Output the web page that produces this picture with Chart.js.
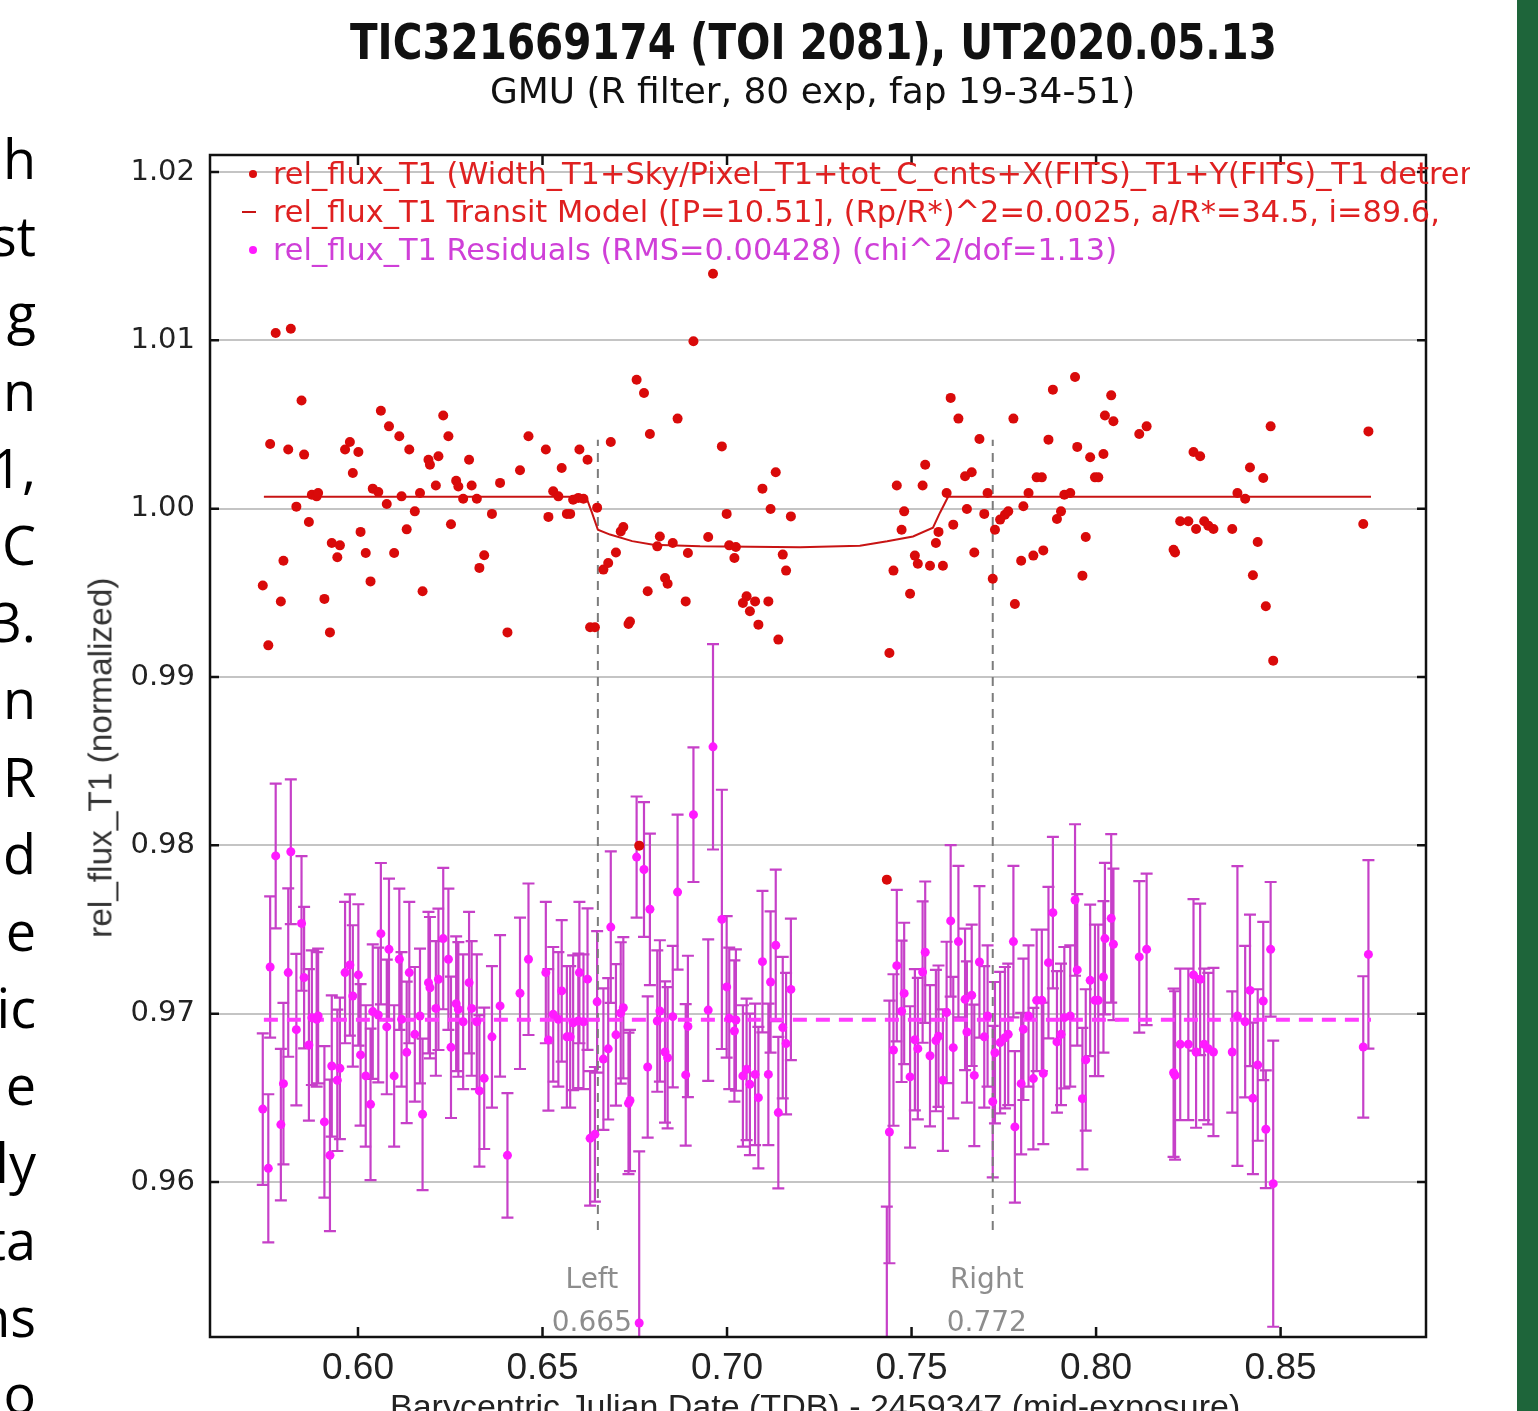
<!DOCTYPE html>
<html>
<head>
<meta charset="utf-8">
<title>TIC321669174 (TOI 2081) light curve</title>
<script src="https://cdn.jsdelivr.net/npm/chart.js"></script>
<style>
    body {
        margin: 0;
        width: 1538px;
        height: 1411px;
        overflow: hidden;
        position: relative;
        background: #fff;
        font-family: "DejaVu Sans", sans-serif;
    }

    #plot {
        position: absolute;
        left: 0;
        top: 0;
    }

    .lbl {
        position: absolute;
        white-space: nowrap;
        line-height: 1;
        color: #111;
        transform-origin: 0 0;
    }

    #title { font-weight: bold; font-size: 49px; }
    #subtitle { font-size: 36px; }
    #ytitle { font-family: "Liberation Sans", sans-serif; font-size: 30px; color: #333; transform-origin: 50% 50%; }
    #xtitle { font-family: "Liberation Sans", sans-serif; font-size: 30px; color: #222; }

    /* legend sits inside the plot and is cut at the right */
    #legend {
        position: absolute;
        left: 238px;
        top: 155px;
        width: 1232px;
        height: 120px;
        overflow: hidden;
    }

    #legend .row {
        position: relative;
        height: 38px;
        line-height: 38px;
        white-space: nowrap;
        font-size: 26px;
    }

    #legend .txt {
        position: absolute;
        left: 35px;
        top: 0;
    }

    #legend .dot {
        position: absolute;
        left: 11px;
        top: 15px;
        width: 8px;
        height: 8px;
        border-radius: 50%;
    }

    #legend .dash {
        position: absolute;
        left: 4px;
        top: 18px;
        width: 14px;
        height: 2px;
    }

    /* slide text cut off on the left */
    #side {
        position: absolute;
        left: -264px;
        top: 120px;
        width: 300px;
        text-align: right;
        font-family: "Open Sans", sans-serif;
        font-size: 54px;
        line-height: 77.2px;
        color: #000;
        white-space: nowrap;
    }

    #greenbar {
        position: absolute;
        left: 1517px;
        top: 0;
        width: 21px;
        height: 1411px;
        background: #1e653a;
    }
</style>
</head>

<body>
    <canvas id="plot" width="1538" height="1411" style="width:1538px;height:1411px"></canvas>

    <div id="side">
        <div>h</div><div>st</div><div>g</div><div>n</div><div>1,</div><div>C</div><div>3.</div><div>n</div><div>R</div>
        <div>d</div><div>e</div><div>ic</div><div>e</div><div>ly</div><div>ta</div><div>ns</div><div>o</div>
    </div>
    <div id="greenbar"></div>

    <div id="title" class="lbl">TIC321669174 (TOI 2081), UT2020.05.13</div>
    <div id="subtitle" class="lbl">GMU (R filter, 80 exp, fap 19-34-51)</div>
    <div id="ytitle" class="lbl">rel_flux_T1 (normalized)</div>
    <div id="xtitle" class="lbl">Barycentric Julian Date (TDB) - 2459347 (mid-exposure)</div>

    <div id="legend">
        <div class="row" style="color:#df2020"><span class="dot" style="background:#dc0d0d"></span><span class="txt">rel_flux_T1 (Width_T1+Sky/Pixel_T1+tot_C_cnts+X(FITS)_T1+Y(FITS)_T1 detrend</span></div>
        <div class="row" style="color:#df2020"><span class="dash" style="background:#c81414"></span><span class="txt">rel_flux_T1 Transit Model ([P=10.51], (Rp/R*)^2=0.0025, a/R*=34.5, i=89.6,</span></div>
        <div class="row" style="color:#cf3fd8"><span class="dot" style="background:#ff1aff"></span><span class="txt" id="lg3">rel_flux_T1 Residuals (RMS=0.00428) (chi^2/dof=1.13)</span></div>
    </div>

    <script>
        // mid-exposure times (BJD_TDB - 2459347)
        const bjdTimes = [
            0.5742, 0.5757, 0.5762, 0.5777, 0.5791, 0.5798, 0.5811, 0.5818, 0.5833, 0.5847,
            0.5854, 0.5867, 0.5875, 0.5888, 0.5892, 0.5909, 0.5924, 0.5929, 0.5944, 0.5951,
            0.5965, 0.5978, 0.5986, 0.6001, 0.6007, 0.6021, 0.6034, 0.6040, 0.6055, 0.6062,
            0.6078, 0.6084, 0.6098, 0.6112, 0.6118, 0.6132, 0.6139, 0.6154, 0.6168, 0.6175,
            0.6191, 0.6195, 0.6211, 0.6218, 0.6231, 0.6245, 0.6252, 0.6266, 0.6272, 0.6285,
            0.6301, 0.6308, 0.6322, 0.6329, 0.6342, 0.6363, 0.6385, 0.6405, 0.6439, 0.6462,
            0.6509, 0.6516, 0.6529, 0.6543, 0.6552, 0.6566, 0.6575, 0.6583, 0.6597, 0.6600,
            0.6611, 0.6622, 0.6629, 0.6642, 0.6648, 0.6665, 0.6678, 0.6685, 0.6699, 0.6712,
            0.6719, 0.6733, 0.6737, 0.6755, 0.6762, 0.6775, 0.6785, 0.6791, 0.6811, 0.6818,
            0.6832, 0.6839, 0.6853, 0.6866, 0.6888, 0.6894, 0.6909, 0.6949, 0.6962, 0.6986,
            0.6999, 0.7006, 0.7020, 0.7024, 0.7043, 0.7053, 0.7062, 0.7076, 0.7085, 0.7096,
            0.7112, 0.7118, 0.7132, 0.7139, 0.7151, 0.7160, 0.7173,
            0.7433, 0.7440, 0.7451, 0.7460, 0.7473, 0.7480, 0.7496, 0.7509, 0.7517, 0.7530,
            0.7537, 0.7550, 0.7566, 0.7573, 0.7585, 0.7595, 0.7606, 0.7613, 0.7627, 0.7645,
            0.7650, 0.7663, 0.7670, 0.7684, 0.7697, 0.7706, 0.7720, 0.7726, 0.7740, 0.7753,
            0.7762, 0.7776, 0.7780, 0.7797, 0.7803, 0.7817, 0.7830, 0.7839, 0.7853, 0.7857,
            0.7871, 0.7883, 0.7894, 0.7905, 0.7914, 0.7930, 0.7943, 0.7949, 0.7963, 0.7972,
            0.7984, 0.7997, 0.8006, 0.8020, 0.8024, 0.8041, 0.8047, 0.8117, 0.8137, 0.8210,
            0.8214, 0.8228, 0.8250, 0.8264, 0.8271, 0.8282, 0.8293, 0.8304, 0.8318, 0.8369,
            0.8383, 0.8404, 0.8417, 0.8425, 0.8438, 0.8453, 0.8460, 0.8473, 0.8480, 0.8724,
            0.8738
        ];

        // detrended relative flux (red dots)
        const relFlux = [
            0.99543, 0.99188, 1.00384, 1.01044, 0.99448, 0.99691, 1.00351, 1.01069, 1.00012, 1.00643,
            1.00321, 0.99921, 1.00083, 1.00073, 1.00093, 0.99464, 0.99265, 0.99796, 0.99711, 0.99782,
            1.00351, 1.00396, 1.00212, 1.00337, 0.99862, 0.99737, 0.99568, 1.00119, 1.00099, 1.00582,
            1.00028, 1.00489, 0.99737, 1.00430, 1.00073, 0.99877, 1.00351, 0.99984, 1.00093, 0.99509,
            1.00291, 1.00261, 1.00138, 1.00311, 1.00553, 1.00430, 0.99907, 1.00166, 1.00132, 1.00059,
            1.00291, 1.00138, 1.00059, 0.99648, 0.99723, 0.99969, 1.00153, 0.99265, 1.00228, 1.00430,
            1.00351, 0.99951, 1.00103, 1.00073, 1.00242, 0.99969, 0.99969, 1.00053, 1.00064, 1.00351,
            1.00059, 1.00291, 0.99295, 0.99295, 1.00006, 0.99638, 0.99677, 1.00396, 0.99740, 0.99865,
            0.99891, 0.99315, 0.99330, 1.00766, 0.97998, 1.00687, 0.99509, 1.00444, 0.99776, 0.99835,
            0.99588, 0.99554, 0.99796, 1.00535, 0.99449, 0.99737, 1.00994, 0.99832, 1.01396, 1.00370,
            0.99969, 0.99782, 0.99707, 0.99772, 0.99440, 0.99479, 0.99390, 0.99449, 0.99311, 1.00119,
            0.99449, 0.99998, 1.00216, 0.99222, 0.99727, 0.99632, 0.99954,
            0.97796, 0.99143, 0.99632, 1.00138, 0.99875, 0.99984, 0.99495, 0.99721, 0.99673, 1.00138,
            1.00261, 0.99661, 0.99796, 0.99862, 0.99661, 1.00093, 1.00658, 0.99905, 1.00535, 1.00192,
            0.99998, 1.00216, 0.99740, 1.00414, 0.99969, 1.00093, 0.99584, 0.99875, 0.99935, 0.99964,
            0.99984, 1.00535, 0.99434, 0.99691, 1.00014, 1.00093, 0.99721, 1.00186, 1.00186, 0.99752,
            1.00410, 1.00707, 0.99939, 0.99984, 1.00083, 1.00093, 1.00782, 1.00367, 0.99602, 0.99832,
            1.00305, 1.00186, 1.00186, 1.00325, 1.00553, 1.00673, 1.00519, 1.00444, 1.00489, 0.99756,
            0.99740, 0.99925, 0.99925, 1.00337, 0.99879, 1.00311, 0.99925, 0.99899, 0.99879, 0.99879,
            1.00093, 1.00059, 1.00245, 0.99604, 0.99802, 1.00182, 0.99420, 1.00489, 0.99097, 0.99909,
            1.00459
        ];

        // residuals, shown shifted down (magenta dots)
        const residFlux = [
            0.96433, 0.96081, 0.97277, 0.97937, 0.96341, 0.96584, 0.97244, 0.97962, 0.96905, 0.97536,
            0.97214, 0.96814, 0.96976, 0.96966, 0.96986, 0.96357, 0.96158, 0.96689, 0.96604, 0.96675,
            0.97244, 0.97289, 0.97105, 0.97230, 0.96755, 0.96630, 0.96461, 0.97012, 0.96992, 0.97475,
            0.96921, 0.97382, 0.96630, 0.97323, 0.96966, 0.96770, 0.97244, 0.96877, 0.96986, 0.96402,
            0.97184, 0.97154, 0.97031, 0.97204, 0.97446, 0.97323, 0.96800, 0.97059, 0.97025, 0.96952,
            0.97184, 0.97031, 0.96952, 0.96541, 0.96616, 0.96862, 0.97046, 0.96158, 0.97121, 0.97323,
            0.97244, 0.96844, 0.96996, 0.96966, 0.97135, 0.96862, 0.96862, 0.96946, 0.96957, 0.97244,
            0.96952, 0.97205, 0.96259, 0.96283, 0.97070, 0.96730, 0.96791, 0.97514, 0.96874, 0.97004,
            0.97035, 0.96467, 0.96484, 0.97930, 0.95162, 0.97856, 0.96683, 0.97620, 0.96956, 0.97016,
            0.96772, 0.96738, 0.96982, 0.97722, 0.96636, 0.96924, 0.98182, 0.97021, 0.98585, 0.97560,
            0.97159, 0.96972, 0.96897, 0.96962, 0.96630, 0.96669, 0.96580, 0.96639, 0.96501, 0.97309,
            0.96639, 0.97188, 0.97406, 0.96412, 0.96917, 0.96822, 0.97144,
            0.94954, 0.96297, 0.96784, 0.97285, 0.97014, 0.97120, 0.96624, 0.96845, 0.96792, 0.97247,
            0.97365, 0.96750, 0.96840, 0.96866, 0.96605, 0.97007, 0.97551, 0.96798, 0.97428, 0.97085,
            0.96891, 0.97109, 0.96633, 0.97307, 0.96862, 0.96986, 0.96477, 0.96768, 0.96828, 0.96857,
            0.96877, 0.97428, 0.96327, 0.96584, 0.96907, 0.96986, 0.96614, 0.97079, 0.97079, 0.96645,
            0.97303, 0.97600, 0.96832, 0.96877, 0.96976, 0.96986, 0.97675, 0.97260, 0.96495, 0.96725,
            0.97198, 0.97079, 0.97079, 0.97218, 0.97446, 0.97566, 0.97412, 0.97337, 0.97382, 0.96649,
            0.96633, 0.96818, 0.96818, 0.97230, 0.96772, 0.97204, 0.96818, 0.96792, 0.96772, 0.96772,
            0.96986, 0.96952, 0.97138, 0.96497, 0.96695, 0.97075, 0.96313, 0.97382, 0.95990, 0.96802,
            0.97352
        ];

        // 1-sigma errors of the residuals
        const residErr = [
            0.0045, 0.0044, 0.0042, 0.0043, 0.0045, 0.0048, 0.0050, 0.0043, 0.0045, 0.0040,
            0.0042, 0.0045, 0.0040, 0.0040, 0.0040, 0.0045, 0.0045, 0.0042, 0.0042, 0.0042,
            0.0042, 0.0042, 0.0042, 0.0042, 0.0042, 0.0042, 0.0045, 0.0040, 0.0040, 0.0042,
            0.0040, 0.0042, 0.0042, 0.0042, 0.0040, 0.0042, 0.0042, 0.0040, 0.0040, 0.0045,
            0.0042, 0.0042, 0.0040, 0.0042, 0.0042, 0.0042, 0.0042, 0.0040, 0.0040, 0.0040,
            0.0042, 0.0040, 0.0040, 0.0045, 0.0042, 0.0042, 0.0042, 0.0037, 0.0045, 0.0045,
            0.0042, 0.0042, 0.0040, 0.0040, 0.0042, 0.0042, 0.0042, 0.0040, 0.0040, 0.0042,
            0.0040, 0.0042, 0.0040, 0.0040, 0.0042, 0.0042, 0.0042, 0.0045, 0.0042, 0.0042,
            0.0042, 0.0042, 0.0042, 0.0036, 0.0102, 0.0040, 0.0042, 0.0045, 0.0042, 0.0042,
            0.0042, 0.0042, 0.0042, 0.0046, 0.0042, 0.0042, 0.0040, 0.0042, 0.0061, 0.0077,
            0.0042, 0.0042, 0.0042, 0.0042, 0.0042, 0.0042, 0.0042, 0.0042, 0.0042, 0.0042,
            0.0042, 0.0042, 0.0045, 0.0045, 0.0042, 0.0042, 0.0042,
            0.0090, 0.0078, 0.0045, 0.0045, 0.0042, 0.0042, 0.0042, 0.0042, 0.0042, 0.0042,
            0.0042, 0.0042, 0.0042, 0.0042, 0.0042, 0.0042, 0.0045, 0.0042, 0.0045, 0.0042,
            0.0042, 0.0042, 0.0042, 0.0045, 0.0042, 0.0042, 0.0045, 0.0042, 0.0042, 0.0042,
            0.0042, 0.0045, 0.0045, 0.0042, 0.0042, 0.0042, 0.0042, 0.0042, 0.0042, 0.0042,
            0.0045, 0.0045, 0.0042, 0.0042, 0.0042, 0.0042, 0.0045, 0.0045, 0.0042, 0.0042,
            0.0045, 0.0045, 0.0045, 0.0045, 0.0045, 0.0050, 0.0045, 0.0045, 0.0045, 0.0050,
            0.0050, 0.0045, 0.0045, 0.0045, 0.0045, 0.0045, 0.0045, 0.0045, 0.0050, 0.0036,
            0.0089, 0.0045, 0.0045, 0.0045, 0.0045, 0.0047, 0.0035, 0.0040, 0.0085, 0.0042,
            0.0056
        ];

        // transit model (red line)
        const modelTimes = [0.5745, 0.6610, 0.6621, 0.6634, 0.6650, 0.6683, 0.6743, 0.6800, 0.6927,
            0.7198, 0.7360, 0.7434, 0.7504, 0.7558, 0.7577, 0.7599, 0.8745];
        const modelFlux = [1.00071, 1.00071, 1.00053, 0.99976, 0.99875, 0.99846, 0.99807, 0.99786, 0.99776,
            0.99770, 0.99780, 0.99806, 0.99835, 0.99887, 0.99976, 1.00071, 1.00071];

        // residual zero level and fit window
        const residSpan = [0.5745, 0.8745];
        const residLevel = 0.96964;
        const leftEdge = 0.665;
        const rightEdge = 0.772;
        const edgeSpan = [0.95715, 1.0041];

        const xTicks = [0.60, 0.65, 0.70, 0.75, 0.80, 0.85];
        const yTicks = [0.96, 0.97, 0.98, 0.99, 1.00, 1.01, 1.02];
        const xRange = [0.5599, 0.8894];
        const yRange = [0.95079, 1.02101];

        // --- text placement ---
        function fitText(el, width) {
            const size = parseFloat(getComputedStyle(el).fontSize);
            const s = size * width / el.offsetWidth;
            el.style.fontSize = s + 'px';
            return s;
        }

        // keep the font size, squeeze horizontally to the wanted width
        function squeeze(id, cx, baseline, width) {
            const el = document.getElementById(id);
            const s = parseFloat(getComputedStyle(el).fontSize);
            el.style.transform = 'scaleX(' + (width / el.offsetWidth) + ')';
            el.style.left = (cx - width / 2) + 'px';
            el.style.top = (baseline - 0.846 * s) + 'px';
        }

        function place(id, cx, baseline, width) {
            const el = document.getElementById(id);
            const s = fitText(el, width);
            el.style.left = (cx - el.offsetWidth / 2) + 'px';
            el.style.top = (baseline - 0.846 * s) + 'px';
        }

        squeeze('title', 813, 59, 927);
        squeeze('subtitle', 812, 103, 645);
        place('xtitle', 815, 1418, 850);

        const yt = document.getElementById('ytitle');
        fitText(yt, 360);
        yt.style.left = (100 - yt.offsetWidth / 2) + 'px';
        yt.style.top = (757 - yt.offsetHeight / 2) + 'px';
        yt.style.transform = 'rotate(-90deg)';

        const lgSize = fitText(document.getElementById('lg3'), 844);
        document.querySelectorAll('#legend .txt').forEach(el => el.style.fontSize = lgSize + 'px');

        // --- plugins ---
        const errorBars = {
            id: 'errorBars',
            beforeDatasetsDraw(chart) {
                const { ctx, chartArea: a, scales: { x, y } } = chart;
                ctx.save();
                ctx.beginPath();
                ctx.rect(a.left, a.top, a.width, a.height);
                ctx.clip();
                ctx.strokeStyle = '#c640c8';
                ctx.lineWidth = 2.2;
                ctx.beginPath();
                bjdTimes.forEach((t, i) => {
                    const px = x.getPixelForValue(t);
                    const hi = y.getPixelForValue(residFlux[i] + residErr[i]);
                    const lo = y.getPixelForValue(residFlux[i] - residErr[i]);
                    ctx.moveTo(px, hi); ctx.lineTo(px, lo);
                    ctx.moveTo(px - 6, hi); ctx.lineTo(px + 6, hi);
                    ctx.moveTo(px - 6, lo); ctx.lineTo(px + 6, lo);
                });
                ctx.stroke();
                ctx.restore();
            }
        };

        const frame = {
            id: 'frame',
            afterDatasetsDraw(chart) {
                const { ctx, chartArea: a, scales: { x, y } } = chart;
                ctx.save();
                // Left / Right labels of the fit window
                ctx.fillStyle = '#8d8d8d';
                ctx.font = '28px "DejaVu Sans"';
                ctx.textAlign = 'center';
                ctx.textBaseline = 'middle';
                [[leftEdge, 'Left'], [rightEdge, 'Right']].forEach(([v, name]) => {
                    const p = x.getPixelForValue(v) - 6;
                    ctx.fillText(name, p, a.bottom - 56);
                    ctx.fillText(v.toFixed(3), p, a.bottom - 13);
                });
                // box and inward ticks
                ctx.strokeStyle = '#111';
                ctx.lineWidth = 2.5;
                ctx.strokeRect(a.left, a.top, a.width, a.height);
                ctx.beginPath();
                xTicks.forEach(v => {
                    const p = x.getPixelForValue(v);
                    ctx.moveTo(p, a.bottom); ctx.lineTo(p, a.bottom - 10);
                    ctx.moveTo(p, a.top); ctx.lineTo(p, a.top + 10);
                });
                yTicks.forEach(v => {
                    const p = y.getPixelForValue(v);
                    ctx.moveTo(a.left, p); ctx.lineTo(a.left + 9, p);
                    ctx.moveTo(a.right, p); ctx.lineTo(a.right - 9, p);
                });
                ctx.stroke();
                ctx.restore();
            }
        };

        // --- chart ---
        const chart = new Chart(document.getElementById('plot'), {
            type: 'scatter',
            data: {
                datasets: [
                    {
                        label: 'rel_flux_T1',
                        data: bjdTimes.map((t, i) => ({ x: t, y: relFlux[i] })),
                        backgroundColor: '#d90a0a',
                        pointRadius: 5,
                        pointBorderWidth: 0
                    },
                    {
                        label: 'rel_flux_T1 Residuals',
                        data: bjdTimes.map((t, i) => ({ x: t, y: residFlux[i] })),
                        backgroundColor: '#ff1aff',
                        pointRadius: 4.5,
                        pointBorderWidth: 0
                    },
                    {
                        label: 'Transit Model',
                        type: 'line',
                        data: modelTimes.map((t, i) => ({ x: t, y: modelFlux[i] })),
                        borderColor: '#c81414',
                        borderWidth: 2,
                        pointRadius: 0,
                        fill: false
                    },
                    {
                        label: 'residual level',
                        type: 'line',
                        data: residSpan.map(t => ({ x: t, y: residLevel })),
                        borderColor: '#ff3cff',
                        borderWidth: 4,
                        borderDash: [14, 9],
                        pointRadius: 0,
                        fill: false
                    },
                    {
                        label: 'Left',
                        type: 'line',
                        data: edgeSpan.map(v => ({ x: leftEdge, y: v })),
                        borderColor: '#7c7c7c',
                        borderWidth: 2,
                        borderDash: [9, 7],
                        pointRadius: 0
                    },
                    {
                        label: 'Right',
                        type: 'line',
                        data: edgeSpan.map(v => ({ x: rightEdge, y: v })),
                        borderColor: '#7c7c7c',
                        borderWidth: 2,
                        borderDash: [9, 7],
                        pointRadius: 0
                    }
                ]
            },
            options: {
                responsive: false,
                animation: false,
                devicePixelRatio: 1,
                layout: { padding: { left: 0, top: 155, right: 112, bottom: 0 } },
                plugins: { legend: { display: false }, tooltip: { enabled: false } },
                scales: {
                    x: {
                        type: 'linear',
                        min: xRange[0],
                        max: xRange[1],
                        afterFit: s => { s.height = 74; },
                        afterBuildTicks: s => { s.ticks = xTicks.map(v => ({ value: v })); },
                        ticks: {
                            callback: v => v.toFixed(2),
                            font: { family: '"Liberation Sans", sans-serif', size: 37 },
                            color: '#222',
                            padding: 10,
                            maxRotation: 0,
                            autoSkip: false
                        },
                        grid: { display: false, drawTicks: false },
                        border: { display: false }
                    },
                    y: {
                        min: yRange[0],
                        max: yRange[1],
                        afterFit: s => { s.width = 210; },
                        afterBuildTicks: s => { s.ticks = yTicks.map(v => ({ value: v })); },
                        ticks: {
                            callback: v => v.toFixed(2),
                            font: { family: '"DejaVu Sans", sans-serif', size: 29 },
                            color: '#222',
                            padding: 15,
                            autoSkip: false
                        },
                        grid: { color: '#c4c4c4', lineWidth: 2, drawTicks: false },
                        border: { display: false }
                    }
                }
            },
            plugins: [errorBars, frame]
        });
    </script>
</body>
</html>
